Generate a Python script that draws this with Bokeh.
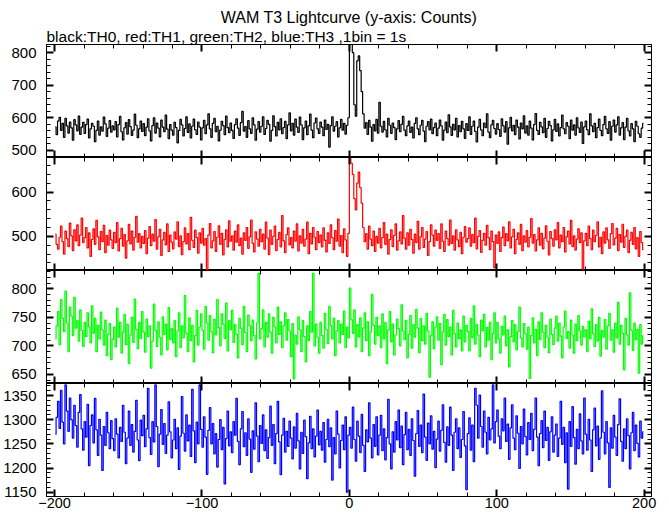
from bokeh.plotting import figure
from bokeh.layouts import column
from bokeh.models import Range1d, LinearAxis, SingleIntervalTicker, Title
from bokeh.embed import file_html
from bokeh.resources import INLINE
import numpy as np

# ---------------- data (counts per 1 s bin, t = -200 .. 199 s) ----------------
TIME_START = -200

TH0 = [
    572, 548, 590, 601, 561, 583, 540, 598, 575, 553, 587, 569, 531, 594, 578, 560, 605, 549, 571, 586,
    552, 579, 596, 538, 566, 583, 574, 527, 561, 590, 547, 572, 559, 602, 581, 543, 568, 591, 556, 575,
    563, 588, 541, 579, 604, 557, 532, 569, 585, 550, 594, 573, 546, 562, 611, 577, 539, 566, 590, 558,
    582, 545, 571, 597, 560, 529, 576, 600, 553, 584, 568, 541, 593, 571, 557, 608, 565, 536, 579, 562,
    547, 586, 570, 523, 561, 595, 578, 544, 567, 603, 555, 581, 538, 574, 596, 563, 549, 587, 571, 532,
    569, 592, 551, 578, 612, 566, 540, 583, 598, 557, 574, 529, 562, 589, 576, 548, 605, 570, 554, 584,
    561, 537, 579, 597, 568, 546, 585, 620, 559, 573, 540, 591, 566, 552, 600, 578, 531, 565, 588, 556,
    574, 603, 549, 567, 592, 580, 528, 561, 606, 573, 544, 586, 563, 597, 551, 570, 589, 536, 578, 615,
    560, 583, 547, 596, 571, 555, 602, 578, 533, 569, 590, 548, 575, 611, 562, 539, 584, 599, 566, 552,
    587, 571, 545, 593, 564, 580, 510, 576, 603, 559, 574, 588, 541, 569, 595, 562, 583, 550, 577, 600,
    835, 825, 800, 640, 605, 775, 790, 745, 680, 612, 568, 585, 549, 592, 571, 528, 579, 560, 595, 553,
    647, 574, 556, 589, 563, 541, 598, 577, 552, 584, 570, 533, 566, 591, 557, 580, 604, 562, 545, 575,
    590, 555, 571, 538, 583, 600, 566, 548, 577, 592, 559, 527, 574, 588, 563, 596, 551, 570, 584, 545,
    568, 593, 575, 531, 562, 587, 554, 609, 572, 546, 580, 563, 598, 541, 576, 557, 589, 566, 537, 582,
    561, 603, 549, 574, 590, 558, 526, 571, 595, 563, 545, 584, 570, 612, 556, 539, 578, 592, 567, 550,
    582, 564, 543, 597, 575, 556, 588, 519, 569, 601, 560, 577, 548, 593, 571, 535, 584, 566, 606, 553,
    575, 547, 590, 568, 532, 579, 613, 561, 549, 586, 572, 554, 598, 540, 567, 589, 576, 529, 563, 595,
    558, 581, 544, 570, 608, 566, 551, 585, 574, 536, 593, 562, 578, 547, 600, 569, 555, 587, 521, 572,
    590, 563, 548, 612, 575, 557, 583, 539, 570, 596, 561, 545, 579, 604, 566, 552, 588, 531, 574, 593,
    556, 578, 603, 547, 569, 585, 533, 571, 598, 560, 544, 582, 566, 527, 589, 574, 551, 540, 568, 583,
]

TH1 = [
    505, 482, 471, 498, 523, 488, 460, 512, 495, 477, 530, 501, 468, 515, 490, 526, 479, 503, 541, 486,
    497, 520, 474, 508, 455, 493, 517, 482, 536, 499, 470, 511, 488, 525, 463, 502, 480, 514, 492, 473,
    509, 486, 531, 467, 495, 518, 478, 504, 451, 490, 527, 483, 512, 469, 498, 545, 487, 506, 474, 500,
    484, 513, 461, 496, 522, 479, 505, 489, 538, 471, 499, 516, 457, 492, 509, 481, 528, 466, 503, 487,
    472, 510, 494, 533, 477, 501, 459, 488, 519, 483, 506, 470, 543, 491, 475, 514, 497, 462, 508, 485,
    518, 480, 495, 424, 503, 529, 474, 490, 511, 466, 498, 524, 482, 507, 458, 493, 515, 476, 535, 489,
    501, 469, 512, 487, 526, 479, 496, 460, 508, 491, 520, 473, 499, 537, 484, 465, 510, 494, 478, 516,
    488, 505, 471, 532, 496, 459, 514, 482, 500, 523, 468, 493, 509, 476, 547, 490, 463, 504, 519, 481,
    497, 474, 512, 489, 528, 467, 501, 485, 516, 478, 494, 532, 461, 507, 483, 520, 498, 470, 511, 486,
    503, 476, 519, 491, 465, 508, 484, 526, 497, 470, 513, 489, 539, 478, 502, 463, 517, 492, 455, 507,
    690, 665, 640, 585, 560, 620, 645, 610, 575, 520, 488, 506, 471, 523, 494, 479, 512, 466, 500, 485,
    518, 474, 497, 531, 482, 505, 460, 493, 515, 477, 502, 528, 469, 490, 510, 483, 547, 496, 471, 508,
    480, 516, 493, 462, 505, 486, 534, 471, 499, 520, 475, 494, 511, 457, 488, 526, 503, 478, 514, 491,
    506, 473, 528, 489, 466, 512, 495, 480, 537, 484, 501, 469, 515, 492, 477, 509, 461, 498, 522, 487,
    495, 519, 478, 504, 486, 541, 472, 500, 513, 464, 491, 507, 480, 525, 497, 470, 512, 488, 429, 503,
    484, 510, 466, 497, 521, 479, 506, 490, 533, 474, 499, 516, 461, 493, 508, 482, 527, 468, 501, 487,
    513, 476, 498, 540, 485, 504, 467, 492, 519, 480, 507, 472, 496, 524, 489, 458, 511, 495, 478, 515,
    492, 531, 474, 503, 488, 520, 465, 499, 512, 483, 536, 477, 501, 469, 494, 517, 486, 508, 426, 490,
    507, 479, 523, 495, 470, 514, 488, 502, 533, 476, 498, 461, 510, 485, 519, 492, 473, 506, 529, 481,
    496, 518, 468, 504, 487, 527, 475, 500, 514, 463, 491, 509, 482, 520, 472, 497, 455, 511, 486, 470,
]

TH2 = [
    712, 735, 760, 702, 781, 748, 725, 796, 740, 690, 768, 752, 718, 785, 731, 744, 708, 763, 727, 699,
    741, 716, 758, 733, 705, 770, 722, 748, 690, 736, 712, 759, 728, 701, 745, 683, 720, 739, 676, 711,
    733, 698, 766, 715, 741, 687, 724, 755, 702, 738, 669, 719, 750, 706, 782, 729, 695, 741, 713, 760,
    724, 689, 747, 716, 735, 661, 708, 773, 727, 699, 742, 715, 684, 751, 720, 738, 693, 767, 711, 730,
    705, 744, 681, 726, 758, 697, 735, 714, 788, 722, 690, 749, 709, 736, 672, 718, 762, 701, 733, 756,
    727, 694, 769, 740, 710, 753, 725, 688, 747, 719, 781, 732, 700, 756, 738, 713, 775, 691, 744, 728,
    762, 706, 737, 720, 679, 748, 731, 702, 769, 723, 690, 754, 735, 709, 745, 718, 677, 740, 827, 712,
    730, 763, 698, 741, 715, 756, 724, 687, 750, 733, 705, 768, 720, 742, 697, 735, 758, 710, 746, 726,
    681, 739, 642, 719, 703, 751, 728, 690, 744, 716, 672, 735, 709, 760, 724, 827, 700, 738, 715, 687,
    741, 718, 696, 757, 729, 704, 769, 735, 712, 748, 683, 726, 744, 705, 738, 720, 761, 697, 733, 714,
    801, 746, 722, 763, 698, 737, 715, 749, 690, 731, 758, 709, 742, 683, 724, 790, 736, 703, 750, 718,
    735, 697, 756, 712, 741, 669, 728, 760, 707, 738, 684, 719, 747, 730, 700, 772, 726, 711, 744, 679,
    720, 753, 696, 737, 715, 764, 731, 688, 748, 709, 735, 703, 757, 726, 645, 718, 742, 695, 733, 751,
    710, 739, 667, 724, 755, 701, 746, 716, 733, 684, 762, 721, 698, 740, 712, 728, 691, 752, 707, 736,
    725, 691, 748, 714, 770, 703, 737, 719, 681, 745, 726, 755, 698, 732, 710, 741, 676, 722, 758, 705,
    741, 712, 687, 734, 719, 752, 700, 728, 663, 716, 744, 707, 737, 693, 725, 768, 714, 698, 739, 721,
    694, 733, 643, 718, 749, 705, 729, 683, 742, 711, 758, 724, 697, 736, 715, 688, 747, 720, 702, 731,
    752, 708, 740, 717, 679, 733, 761, 713, 725, 696, 745, 719, 687, 738, 709, 753, 726, 701, 734, 715,
    728, 690, 743, 712, 765, 721, 699, 737, 708, 750, 682, 727, 715, 746, 694, 735, 757, 710, 728, 689,
    740, 714, 776, 703, 736, 722, 658, 748, 719, 701, 793, 727, 692, 740, 711, 729, 652, 737, 703, 718,
]

TH3 = [
    1270, 1305, 1338, 1282, 1361, 1295, 1250, 1372, 1318, 1276, 1345, 1300, 1262, 1330, 1288, 1243, 1315, 1352, 1281, 1237,
    1296, 1264, 1332, 1205, 1288, 1310, 1252, 1344, 1279, 1226, 1301, 1268, 1195, 1286, 1247, 1315, 1273, 1240, 1298, 1261,
    1236, 1302, 1270, 1221, 1284, 1255, 1330, 1274, 1209, 1262, 1318, 1247, 1290, 1233, 1276, 1340, 1258, 1215, 1299, 1267,
    1309, 1244, 1281, 1365, 1263, 1228, 1296, 1254, 1372, 1286, 1203, 1270, 1321, 1249, 1292, 1230, 1268, 1337, 1275, 1221,
    1258, 1301, 1240, 1283, 1197, 1266, 1348, 1272, 1235, 1310, 1256, 1289, 1224, 1363, 1277, 1211, 1295, 1250, 1372, 1280,
    1243, 1306, 1264, 1187, 1278, 1325, 1250, 1292, 1229, 1271, 1202, 1259, 1300, 1238, 1284, 1167, 1261, 1318, 1246, 1275,
    1232, 1296, 1268, 1344, 1255, 1207, 1281, 1317, 1244, 1273, 1226, 1302, 1260, 1191, 1277, 1239, 1335, 1266, 1213, 1288,
    1251, 1310, 1236, 1279, 1220, 1263, 1328, 1247, 1290, 1209, 1271, 1338, 1254, 1186, 1268, 1303, 1233, 1276, 1245, 1297,
    1262, 1219, 1285, 1241, 1313, 1256, 1198, 1274, 1230, 1299, 1265, 1178, 1252, 1307, 1240, 1281, 1223, 1266, 1320, 1248,
    1276, 1237, 1294, 1212, 1259, 1301, 1244, 1283, 1175, 1263, 1229, 1318, 1270, 1200, 1257, 1289, 1238, 1306, 1150, 1268,
    1284, 1241, 1326, 1259, 1214, 1297, 1266, 1232, 1311, 1247, 1193, 1279, 1254, 1335, 1262, 1221, 1290, 1245, 1306, 1227,
    1268, 1309, 1236, 1281, 1217, 1263, 1342, 1250, 1198, 1275, 1233, 1296, 1258, 1320, 1242, 1287, 1207, 1269, 1315, 1238,
    1280, 1226, 1302, 1257, 1183, 1271, 1319, 1245, 1289, 1232, 1353, 1264, 1216, 1293, 1250, 1308, 1239, 1276, 1201, 1260,
    1297, 1235, 1278, 1331, 1253, 1212, 1285, 1247, 1326, 1268, 1195, 1274, 1302, 1240, 1283, 1222, 1259, 1317, 1246, 1155,
    1271, 1304, 1237, 1289, 1213, 1365, 1330, 1262, 1351, 1286, 1243, 1318, 1274, 1229, 1305, 1258, 1281, 1372, 1252, 1296,
    1320, 1266, 1240, 1302, 1277, 1345, 1255, 1291, 1218, 1283, 1331, 1262, 1238, 1308, 1272, 1199, 1286, 1250, 1322, 1265,
    1227, 1294, 1259, 1313, 1236, 1280, 1345, 1264, 1205, 1271, 1298, 1242, 1318, 1257, 1284, 1216, 1275, 1306, 1233, 1268,
    1291, 1224, 1262, 1338, 1249, 1284, 1211, 1273, 1156, 1296, 1245, 1327, 1263, 1208, 1280, 1240, 1312, 1256, 1229, 1345,
    1270, 1237, 1301, 1258, 1193, 1279, 1324, 1246, 1287, 1218, 1262, 1360, 1274, 1229, 1296, 1252, 1160, 1283, 1241, 1309,
    1264, 1226, 1290, 1343, 1255, 1214, 1281, 1240, 1302, 1267, 1198, 1273, 1315, 1236, 1289, 1251, 1223, 1297, 1262, 1275,
]

TITLE = "WAM T3 Lightcurve (y-axis: Counts)"
SUBTITLE = "black:TH0, red:TH1, green:TH2, blue:TH3 ,1bin = 1s"

SERIES = [TH0, TH1, TH2, TH3]
COLORS = ["#000000", "#ff0000", "#00ff00", "#0000ff"]
Y_RANGES = [(478, 825), (423, 678), (634, 832), (1141, 1375)]
Y_STEPS = [100, 100, 50, 50]

# ---------------- layout ----------------
FONT = "Liberation Sans"
FRAME_W = 605
FRAME_H = 113
TOP_BORDER = 44

t = np.arange(TIME_START, TIME_START + len(TH0)) + 0.5
x_range = Range1d(-205.5, 205)


def style_axis(ax, show_labels, size="15px", standoff=5):
    ax.axis_line_color = "black"
    ax.axis_line_width = 1
    ax.major_tick_in = 7
    ax.major_tick_out = 0
    ax.minor_tick_in = 4
    ax.minor_tick_out = 0
    ax.major_tick_line_width = 2
    ax.minor_tick_line_width = 1
    ax.major_tick_line_color = "black"
    ax.minor_tick_line_color = "black"
    if show_labels:
        ax.major_label_text_font = FONT
        ax.major_label_text_font_size = size
        ax.major_label_text_color = "black"
        ax.major_label_standoff = standoff
    else:
        ax.major_label_text_font_size = "0px"
        ax.major_label_text_color = None
        ax.major_label_standoff = 0


figs = []
for i, (vals, col, yr, step) in enumerate(zip(SERIES, COLORS, Y_RANGES, Y_STEPS)):
    first = i == 0
    last = i == len(SERIES) - 1
    p = figure(
        frame_width=FRAME_W, frame_height=FRAME_H,
        x_range=x_range, y_range=Range1d(*yr),
        output_backend="svg", toolbar_location=None,
        min_border=0,
    )
    p.min_border_left = 45
    p.min_border_right = 15
    p.min_border_top = TOP_BORDER if first else 0
    p.min_border_bottom = 0
    p.outline_line_color = "black"
    p.outline_line_width = 1
    p.background_fill_color = "white"
    p.border_fill_color = "white"
    p.xgrid.visible = False
    p.ygrid.visible = False

    xt = SingleIntervalTicker(interval=100, num_minor_ticks=5)
    yt = SingleIntervalTicker(interval=step, num_minor_ticks=5)

    p.xaxis.ticker = xt
    style_axis(p.xaxis[0], last, size="14.5px", standoff=1)
    p.yaxis.ticker = yt
    style_axis(p.yaxis[0], True, size="15px", standoff=10)

    top_ax = LinearAxis(ticker=xt)
    style_axis(top_ax, False)
    p.add_layout(top_ax, "above")
    right_ax = LinearAxis(ticker=yt)
    style_axis(right_ax, False)
    p.add_layout(right_ax, "right")

    p.step(t, vals, mode="center", line_color=col, line_width=1.2)

    if first:
        p.add_layout(Title(text=SUBTITLE, align="left", standoff=0,
                           text_font=FONT, text_font_size="15.5px",
                           text_font_style="normal", text_color="black"), "above")
        p.add_layout(Title(text=TITLE, align="center", standoff=0, offset=2,
                           text_font=FONT, text_font_size="16px",
                           text_font_style="normal", text_color="black"), "above")
    figs.append(p)

layout = column(*figs, spacing=0)
open("out.html", "w").write(file_html(layout, INLINE))
